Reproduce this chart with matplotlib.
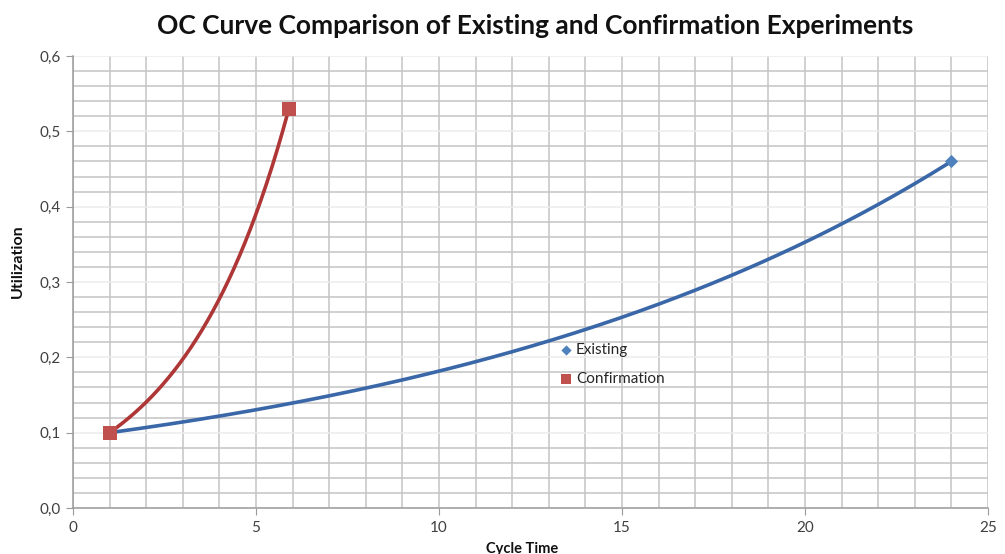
import matplotlib.pyplot as plt
import numpy as np
from matplotlib.ticker import FuncFormatter, MultipleLocator

# measured points
existing_x = [1, 24]
existing_y = [0.10, 0.46]
confirm_x = [1, 5.9]
confirm_y = [0.10, 0.53]

x_ticks = [0, 5, 10, 15, 20, 25]
y_ticks = [0.0, 0.1, 0.2, 0.3, 0.4, 0.5, 0.6]

BLUE = "#4F81BD"
BLUE_LINE = "#3A67A8"
RED = "#C0504D"
RED_LINE = "#AE3636"
FONT = ["Lato", "DejaVu Sans"]


def exp_trend(x, y, n=200):
    # exponential trendline y = a * exp(b x), fitted on log(y)
    b, ln_a = np.polyfit(x, np.log(y), 1)
    xs = np.linspace(min(x), max(x), n)
    return xs, np.exp(ln_a) * np.exp(b * xs)


plt.rcParams["font.family"] = FONT

fig = plt.figure(figsize=(10.05, 5.54), dpi=100)
ax = fig.add_axes([0.0726, 0.083, 0.9104, 0.816])

ax.set_xlim(0, 25)
ax.set_ylim(0, 0.6)

# grid: light major lines, darker minor lines
ax.xaxis.set_minor_locator(MultipleLocator(1))
ax.yaxis.set_minor_locator(MultipleLocator(0.02))
ax.set_xticks(x_ticks)
ax.set_yticks(y_ticks)
ax.grid(which="minor", axis="both", color="#c4c4c4", linewidth=1.1)
ax.grid(which="major", axis="x", color="#c4c4c4", linewidth=1.1)
ax.grid(which="major", axis="y", color="#ececec", linewidth=1.1)
ax.set_axisbelow(True)

for side in ["top", "right"]:
    ax.spines[side].set_visible(False)
for side in ["left", "bottom"]:
    ax.spines[side].set_color("#9a9a9a")
    ax.spines[side].set_linewidth(1.1)

ax.tick_params(which="major", length=5, color="#9a9a9a", labelsize=11,
               labelcolor="#404040", pad=4)
ax.tick_params(which="minor", length=0)
ax.yaxis.set_major_formatter(FuncFormatter(lambda v, _: f"{v:.1f}".replace(".", ",")))

# trendlines
tx, ty = exp_trend(existing_x, existing_y)
ax.plot(tx, ty, color=BLUE_LINE, linewidth=2.6, zorder=3, solid_capstyle="round")
tx, ty = exp_trend(confirm_x, confirm_y)
ax.plot(tx, ty, color=RED_LINE, linewidth=2.6, zorder=3, solid_capstyle="round")

# data markers
ax.scatter(existing_x, existing_y, marker="D", s=45, color=BLUE, zorder=4,
           label="Existing", linewidths=0)
ax.scatter(confirm_x, confirm_y, marker="s", s=100, color=RED, zorder=5,
           label="Confirmation", linewidths=0)

leg = ax.legend(loc="upper left", bbox_to_anchor=(0.524, 0.378), frameon=False,
                fontsize=11, handletextpad=0.15, labelspacing=0.95,
                borderaxespad=0, handlelength=1.0, markerscale=0.78)
for t in leg.get_texts():
    t.set_color("#262626")

fig.text(0.533, 0.953, "OC Curve Comparison of Existing and Confirmation Experiments",
         ha="center", va="center", fontsize=19, fontweight="bold", color="#111111")
fig.text(0.018, 0.529, "Utilization", ha="center", va="center", rotation=90,
         fontsize=11.5, fontweight="bold", color="#111111")
fig.text(0.52, 0.009, "Cycle Time", ha="center", va="center",
         fontsize=10.5, fontweight="bold", color="#111111")

fig.savefig("out.png", dpi=100)
